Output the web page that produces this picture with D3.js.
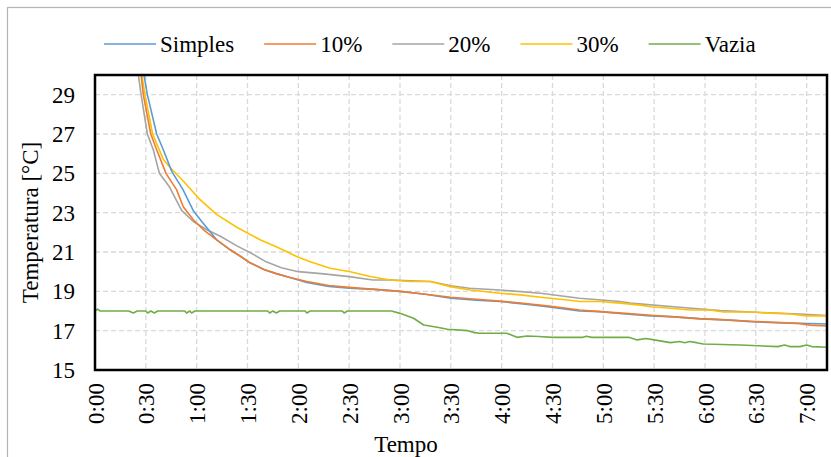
<!DOCTYPE html>
<html><head><meta charset="utf-8">
<script src="https://cdn.jsdelivr.net/npm/d3@7/dist/d3.min.js"></script>
<style>
html,body{margin:0;padding:0;background:#fff;}
svg{display:block;}
svg text{font-family:"Liberation Serif","Times New Roman",serif !important;fill:#000;}
</style></head>
<body>
<svg id="chart" width="831" height="457"></svg>
<script>
// ---- data (time in minutes, temperature in °C) ----
const seriesNames = ["Simples", "10%", "20%", "30%", "Vazia"];
const seriesColors = ["#5B9BD5", "#ED7D31", "#A5A5A5", "#FFC000", "#70AD47"];

const simplesT = [28.9, 30.9, 36.4, 40.3, 45.3, 52, 58, 63, 67, 72, 80, 86, 91.5, 100, 107, 115, 125, 138, 150, 165, 180, 195, 210, 225, 239, 254, 268, 286, 298, 313, 328, 342, 357, 372, 387, 402, 416, 432];
const simplesV = [30, 29, 27, 26.2, 25.1, 24.16, 23.1, 22.55, 22.13, 21.6, 21.1, 20.77, 20.45, 20.1, 19.9, 19.7, 19.45, 19.25, 19.16, 19.1, 19.0, 18.85, 18.65, 18.55, 18.48, 18.35, 18.2, 18.0, 17.97, 17.85, 17.75, 17.7, 17.61, 17.55, 17.46, 17.4, 17.38, 17.34];

const p10T = [27.2, 28.5, 32.9, 36.4, 41.9, 48.2, 52.1, 58, 64, 72, 80, 86, 91.5, 100, 107, 115, 125, 138, 150, 165, 180, 195, 210, 225, 239, 254, 268, 286, 298, 313, 328, 342, 357, 372, 387, 402, 416, 422, 432];
const p10V = [30, 29, 27, 26.2, 25.0, 24.16, 23.3, 22.64, 22.13, 21.6, 21.1, 20.77, 20.45, 20.1, 19.9, 19.7, 19.5, 19.3, 19.2, 19.1, 19.0, 18.85, 18.7, 18.6, 18.5, 18.38, 18.25, 18.05, 17.97, 17.88, 17.78, 17.7, 17.6, 17.55, 17.48, 17.42, 17.36, 17.28, 17.24];

const p20T = [25.6, 27.2, 30.9, 34.4, 38, 44, 51.2, 58, 66, 74, 84, 92, 101, 110, 120, 135, 150, 164, 175, 198, 210, 221, 239, 263, 286, 310, 316, 345, 369, 393, 416, 432];
const p20V = [30, 29, 27, 26.2, 25, 24.3, 23.1, 22.55, 22.13, 21.8, 21.3, 20.95, 20.5, 20.2, 20.0, 19.89, 19.75, 19.58, 19.58, 19.5, 19.28, 19.16, 19.07, 18.9, 18.65, 18.48, 18.4, 18.19, 18.02, 17.92, 17.85, 17.77];

const p30T = [27.6, 29.5, 34, 40.4, 44.3, 52.2, 62, 71.9, 83.7, 97.4, 107.3, 119, 127, 138.8, 150.6, 162.4, 174, 186, 198, 209.6, 221.5, 239, 251, 263, 274.6, 286.4, 298, 310, 322, 328, 339.8, 351.4, 363, 371, 387, 399, 410.4, 420, 432];
const p30V = [30, 29, 27, 25.7, 25.3, 24.6, 23.66, 22.9, 22.26, 21.62, 21.25, 20.77, 20.51, 20.17, 20.0, 19.75, 19.58, 19.5, 19.5, 19.24, 19.07, 18.9, 18.82, 18.7, 18.6, 18.48, 18.48, 18.4, 18.3, 18.22, 18.14, 18.05, 18.05, 17.95, 17.95, 17.89, 17.85, 17.75, 17.75];

const vaziaT = [0, 1.5, 3, 20, 22.6, 25, 30, 31, 33, 35, 37, 53, 54, 56, 57, 59, 102, 103, 105, 107, 109, 124, 125, 127, 146, 147, 149, 175, 180, 188, 194, 202, 208, 220, 224, 227, 243, 249, 255, 262, 270, 288, 290, 293, 315, 320, 325, 330, 339.6, 345, 348, 351, 355, 359, 381, 403, 407, 410, 416, 420, 423, 432];
const vaziaV = [18.0, 18.1, 18.0, 18.0, 17.9, 18.0, 18.0, 17.9, 18.0, 17.9, 18.0, 18.0, 17.9, 18.0, 17.9, 18.0, 18.0, 17.9, 18.0, 17.9, 18.0, 18.0, 17.9, 18.0, 18.0, 17.9, 18.0, 18.0, 17.88, 17.63, 17.29, 17.17, 17.07, 17.0, 16.9, 16.87, 16.87, 16.66, 16.73, 16.7, 16.66, 16.66, 16.72, 16.66, 16.66, 16.53, 16.6, 16.53, 16.39, 16.45, 16.39, 16.45, 16.39, 16.32, 16.27, 16.19, 16.27, 16.19, 16.19, 16.27, 16.19, 16.16];

const yTicks = [15, 17, 19, 21, 23, 25, 27, 29];
const xTicks = [0, 30, 60, 90, 120, 150, 180, 210, 240, 270, 300, 330, 360, 390, 420];
const xTickLabels = ["0:00", "0:30", "1:00", "1:30", "2:00", "2:30", "3:00", "3:30", "4:00", "4:30", "5:00", "5:30", "6:00", "6:30", "7:00"];

// ---- build ----
const FONT = '"Liberation Serif","Times New Roman",serif';
const svg = d3.select("#chart");
const L = 95, T = 75, R = 827, B = 370;
const x = d3.scaleLinear().domain([0, 432]).range([L, R]);
const y = d3.scaleLinear().domain([15, 30]).range([B, T]);

// outer chart border
svg.append("rect").attr("x", 7.5).attr("y", 7.5).attr("width", 900).attr("height", 600)
  .attr("fill", "#fff").attr("stroke", "#b4b4b4").attr("stroke-width", 1.2);

// gridlines
const grid = svg.append("g");
grid.selectAll("line.h").data(yTicks).enter().append("line")
  .attr("x1", L).attr("x2", R).attr("y1", d => y(d)).attr("y2", d => y(d))
  .attr("stroke", "#d9d9d9").attr("stroke-width", 1.3).attr("stroke-dasharray", "5,3");
grid.selectAll("line.v").data(xTicks).enter().append("line")
  .attr("y1", T).attr("y2", B).attr("x1", d => x(d)).attr("x2", d => x(d))
  .attr("stroke", "#d9d9d9").attr("stroke-width", 1.3).attr("stroke-dasharray", "5,3");

// clip
svg.append("clipPath").attr("id", "clip").append("rect")
  .attr("x", L).attr("y", T).attr("width", R - L).attr("height", B - T);

const seriesData = [
  d3.zip(simplesT, simplesV),
  d3.zip(p10T, p10V),
  d3.zip(p20T, p20V),
  d3.zip(p30T, p30V),
  d3.zip(vaziaT, vaziaV)
];
const line = d3.line().x(d => x(d[0])).y(d => y(d[1]));
const drawOrder = [4, 2, 3, 0, 1];
svg.append("g").attr("clip-path", "url(#clip)")
  .selectAll("path").data(drawOrder).enter().append("path")
  .attr("d", i => line(seriesData[i]))
  .attr("fill", "none").attr("stroke", i => seriesColors[i])
  .attr("stroke-width", 1.6).attr("stroke-linejoin", "round");

// plot frame
svg.append("rect").attr("x", L).attr("y", T).attr("width", R - L).attr("height", B - T)
  .attr("fill", "none").attr("stroke", "#000").attr("stroke-width", 2.5);

// y axis
const yAxis = d3.axisLeft(y).tickValues(yTicks).tickSize(0).tickPadding(20);
const gy = svg.append("g").attr("transform", `translate(${L},0)`).call(yAxis)
  .attr("font-family", FONT).attr("font-size", 23);
gy.select(".domain").remove();
gy.selectAll("text").style("font-size", "23px").style("font-family", FONT);

// x axis
const xAxis = d3.axisBottom(x).tickValues(xTicks).tickSize(0)
  .tickFormat((d, i) => xTickLabels[i]);
const gx = svg.append("g").attr("transform", `translate(0,${B})`).call(xAxis)
  .attr("font-family", FONT).attr("font-size", 23);
gx.select(".domain").remove();
gx.selectAll("text")
  .style("font-size", "23px").style("font-family", FONT)
  .attr("text-anchor", "end")
  .attr("transform", "rotate(-90)")
  .attr("x", -13).attr("y", 0).attr("dy", "0.35em");

// axis titles
svg.append("text").attr("x", 406).attr("y", 452).attr("text-anchor", "middle")
  .style("font-size", "23px").style("font-family", FONT).text("Tempo");
svg.append("text").attr("transform", `translate(38,${(T + B) / 2}) rotate(-90)`)
  .attr("text-anchor", "middle").style("font-size", "23px").style("font-family", FONT)
  .text("Temperatura [°C]");

// legend
const lg = svg.append("g");
let lx = 104;
const ly = 44;
seriesNames.forEach((name, i) => {
  lg.append("line").attr("x1", lx).attr("x2", lx + 52).attr("y1", ly).attr("y2", ly)
    .attr("stroke", seriesColors[i]).attr("stroke-width", 1.6);
  const t = lg.append("text").attr("x", lx + 56).attr("y", ly).attr("dy", "0.35em")
    .style("font-size", "23px").style("font-family", FONT).text(name);
  lx += 56 + t.node().getComputedTextLength() + 30;
});
</script>
</body></html>
